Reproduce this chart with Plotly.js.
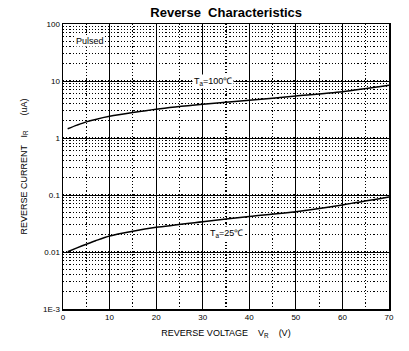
<!DOCTYPE html>
<html><head><meta charset="utf-8">
<script src="https://cdn.plot.ly/plotly-3.0.1.min.js"></script>
<style>html,body{margin:0;padding:0;background:#fff}#c{width:409px;height:351px}</style>
</head><body><div id="c"></div>
<script>
const voltage = [1, 3, 5, 7, 10, 15, 20, 30, 40, 50, 60, 70];
const current100 = [1.45, 1.68, 1.92, 2.12, 2.4, 2.8, 3.2, 3.9, 4.6, 5.45, 6.5, 8.4];
const current25 = [0.0101, 0.0118, 0.0137, 0.0158, 0.0191, 0.0232, 0.0271, 0.034, 0.042, 0.051, 0.067, 0.092];
const yTickVals = [0.001, 0.01, 0.1, 1, 10, 100];
const yTickText = ['1E-3', '0.01', '0.1', '1', '10', '100'];
const xTickVals = [0, 10, 20, 30, 40, 50, 60, 70];

const font = 'Liberation Sans, Arial, sans-serif';
const data = [
  {x: voltage, y: current100, mode: 'lines', line: {color: '#000', width: 1.5, shape: 'spline', smoothing: 0.8}, hoverinfo: 'skip'},
  {x: voltage, y: current25, mode: 'lines', line: {color: '#000', width: 1.5, shape: 'spline', smoothing: 0.8}, hoverinfo: 'skip'}
];
const layout = {
  width: 409, height: 351,
  margin: {l: 63, r: 20, t: 24, b: 42},
  paper_bgcolor: '#fff', plot_bgcolor: '#fff',
  showlegend: false,
  font: {family: font, size: 8, color: '#000'},
  title: {text: '<b>Reverse  Characteristics</b>', font: {family: font, size: 13, color: '#000'}, x: 0.553, xanchor: 'center', y: 0.965, yanchor: 'middle'},
  xaxis: {
    range: [0, 70], tickvals: xTickVals, ticks: '', showline: true, linecolor: '#000', linewidth: 1.5, mirror: true,
    showgrid: true, gridcolor: '#000', gridwidth: 1, zeroline: false,
    tickfont: {family: font, size: 8, color: '#000'},
    minor: {dtick: 5, showgrid: true, gridcolor: '#000', griddash: '1.2px,2px', gridwidth: 1.2},
    title: {text: 'REVERSE VOLTAGE    V<sub>R</sub>    (V)', font: {family: font, size: 9, color: '#000'}, standoff: 8}
  },
  yaxis: {
    type: 'log', range: [-3, 2], tickvals: yTickVals, ticktext: yTickText, ticks: '',
    showline: true, linecolor: '#000', linewidth: 1.5, mirror: true,
    showgrid: true, gridcolor: '#000', gridwidth: 1, zeroline: false,
    tickfont: {family: font, size: 8, color: '#000'},
    minor: {dtick: 'D1', showgrid: true, gridcolor: '#000', griddash: '1.2px,2px', gridwidth: 1.2},
    title: {text: 'REVERSE CURRENT   I<sub>R</sub>      (uA)', font: {family: font, size: 9, color: '#000'}, standoff: 14}
  },
  annotations: [
    {x: 2.6, y: 1.70, xref: 'x', yref: 'y', yanchor: 'middle', xanchor: 'left', text: 'Pulsed', showarrow: false, bgcolor: '#fff', font: {family: font, size: 9, color: '#000'}, borderpad: 0},
    {x: 32.2, y: 1, xref: 'x', yref: 'y', text: 'T<sub>a</sub>=100℃', showarrow: false, bgcolor: '#fff', font: {family: font, size: 9, color: '#000'}, borderpad: 1},
    {x: 35.2, y: -1.68, xref: 'x', yref: 'y', text: 'T<sub>a</sub>=25℃', showarrow: false, bgcolor: '#fff', font: {family: font, size: 9, color: '#000'}, borderpad: 1}
  ]
};
Plotly.newPlot('c', data, layout, {staticPlot: true});
</script></body></html>
